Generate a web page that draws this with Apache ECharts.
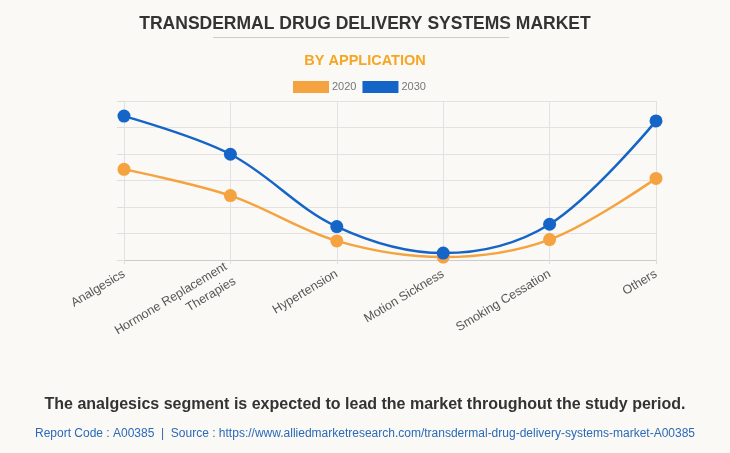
<!DOCTYPE html>
<html><head><meta charset="utf-8">
<script src="https://cdn.jsdelivr.net/npm/echarts@6/dist/echarts.min.js"></script>
<style>html,body{margin:0;padding:0;background:#faf9f5;}#c{width:730px;height:453px;}</style>
</head><body><div id="c"></div>
<script>
const categories = ['Analgesics', 'Hormone Replacement\nTherapies', 'Hypertension', 'Motion Sickness', 'Smoking Cessation', 'Others'];
const values2020 = [3.42, 2.43, 0.72, 0.11, 0.77, 3.08];
const values2030 = [5.43, 3.99, 1.26, 0.26, 1.35, 5.25];
const seriesNames = ['2020', '2030'];

const chart = echarts.init(document.getElementById('c'));
const orange = '#f4a340', blue = '#1565c8';
chart.setOption({
  backgroundColor: '#faf9f5',
  animation: false,
  title: [
    {text: 'TRANSDERMAL DRUG DELIVERY SYSTEMS MARKET', left: 'center', top: 10,
     textStyle: {fontFamily: 'Liberation Sans, Arial', fontWeight: 'bold', fontSize: 17.5, color: '#333'}},
    {text: 'BY APPLICATION', left: 'center', top: 48,
     textStyle: {fontFamily: 'Liberation Sans, Arial', fontWeight: 'bold', fontSize: 14.5, color: '#f5a623'}}
  ],
  graphic: [
    {type: 'line', shape: {x1: 213, y1: 37.5, x2: 509, y2: 37.5}, style: {stroke: '#ccc', lineWidth: 1}},
    {type: 'text', left: 'center', top: 397, style: {text: 'The analgesics segment is expected to lead the market throughout the study period.',
      font: 'bold 16px Liberation Sans, Arial', fill: '#333'}},
    {type: 'text', left: 'center', top: 428, style: {text: 'Report Code : A00385  |  Source : https://www.alliedmarketresearch.com/transdermal-drug-delivery-systems-market-A00385',
      font: '12px Liberation Sans, Arial', fill: '#2a6ab8'}}
  ],
  legend: {top: 81, left: 293, padding: 0, itemWidth: 36, itemHeight: 12, itemGap: 6, icon: 'rect',
    data: seriesNames, textStyle: {color: '#777', fontSize: 11, fontFamily: 'Liberation Sans, Arial', padding: [0, 0, 0, -2]}},
  grid: {left: 124, right: 74, top: 101, bottom: 193},
  xAxis: {type: 'category', data: categories, boundaryGap: false,
    axisLine: {lineStyle: {color: '#ccc'}},
    axisTick: {show: true, alignWithLabel: true, length: 4, lineStyle: {color: '#ddd'}},
    splitLine: {show: true, lineStyle: {color: '#e2e2e2'}},
    axisLabel: {rotate: 31, color: '#555', fontSize: 12.5, lineHeight: 17, fontFamily: 'Liberation Sans, Arial', margin: 13, interval: 0, align: 'right'}},
  yAxis: {type: 'value', min: 0, max: 6, interval: 1,
    axisLabel: {show: false},
    axisLine: {show: false},
    axisTick: {show: true, length: 7, lineStyle: {color: '#ddd'}},
    splitLine: {lineStyle: {color: '#e2e2e2'}}},
  series: [
    {name: seriesNames[0], type: 'line', data: values2020, smooth: 0.35, symbol: 'circle', symbolSize: 13,
     itemStyle: {color: orange}, lineStyle: {color: orange, width: 2.5}},
    {name: seriesNames[1], type: 'line', data: values2030, smooth: 0.35, symbol: 'circle', symbolSize: 13,
     itemStyle: {color: blue}, lineStyle: {color: blue, width: 2.5}}
  ]
});
</script></body></html>
